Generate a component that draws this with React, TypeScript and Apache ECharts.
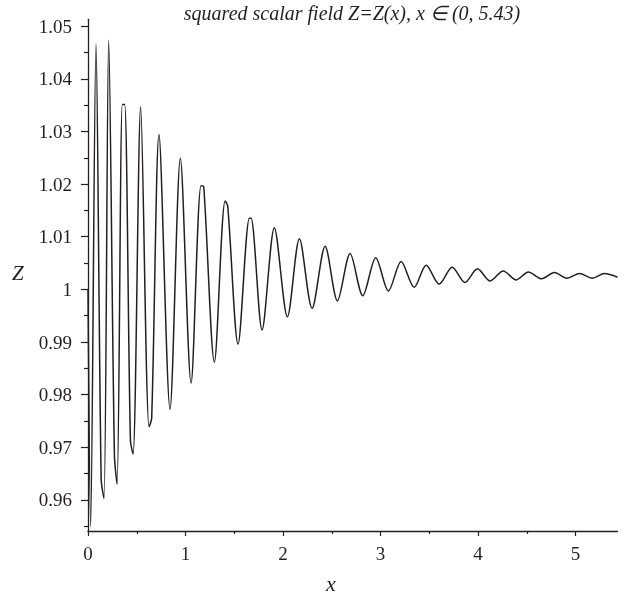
import React, { useEffect, useRef } from "react";
import * as echarts from "echarts";

const xValues = [
  0, 0.027, 0.082, 0.135, 0.164, 0.212, 0.271, 0.298, 0.352, 0.376, 0.435, 0.462,
  0.54, 0.626, 0.653, 0.728, 0.841, 0.947, 1.057, 1.159, 1.187, 1.296, 1.406,
  1.433, 1.539, 1.655, 1.672, 1.785, 1.911, 2.045, 2.168, 2.298, 2.432, 2.558,
  2.688, 2.818, 2.951, 3.081, 3.211, 3.345, 3.468, 3.601, 3.735, 3.865, 3.994,
  4.124, 4.258, 4.391, 4.517, 4.651, 4.784, 4.911, 5.041, 5.171, 5.297, 5.43,
];
const zValues = [
  1.0, 0.9549, 1.0466, 0.964, 0.9603, 1.0473, 0.9685, 0.963, 1.0351, 1.0351, 0.9714, 0.9687,
  1.0347, 0.9739, 0.9755, 1.0294, 0.9772, 1.0249, 0.9822, 1.0197, 1.0195, 0.9862, 1.0168,
  1.0158, 0.9896, 1.0135, 1.0135, 0.9923, 1.0117, 0.9948, 1.0096, 0.9964, 1.0082, 0.9978,
  1.0068, 0.9988, 1.006, 0.9997, 1.0053, 1.0004, 1.0046, 1.001, 1.0042, 1.0013, 1.0039,
  1.0016, 1.0035, 1.0018, 1.0033, 1.002, 1.0032, 1.0021, 1.003, 1.0021, 1.003, 1.0023,
];

const xRange = [0, 5.43];
const yRange = [0.9541, 1.0513];
const xMajorTicks = [0, 1, 2, 3, 4, 5];
const xMinorTicks = [0.5, 1.5, 2.5, 3.5, 4.5];
const yMajorTicks = [0.96, 0.97, 0.98, 0.99, 1, 1.01, 1.02, 1.03, 1.04, 1.05];
const yMinorTicks = [0.955, 0.965, 0.975, 0.985, 0.995, 1.005, 1.015, 1.025, 1.035, 1.045];

const titleText = "squared scalar field Z=Z(x), x \u2208 (0, 5.43)";
const xName = "x";
const yName = "Z";

const INK = "#231f20";

export default function App() {
  const ref = useRef<HTMLDivElement>(null);

  useEffect(() => {
    if (!ref.current) return;
    const chart = echarts.init(ref.current, undefined, { renderer: "svg" });
    const fmt = (v: number) => String(+Number(v).toFixed(3));

    const option: any = {
      animation: false,
      grid: { left: 88, right: 9.5, top: 19.3, bottom: 68, containLabel: false },
      xAxis: [
        {
          type: "value",
          min: xRange[0],
          max: xRange[1],
          axisLine: { show: true, onZero: false, lineStyle: { color: INK, width: 1.3 } },
          axisTick: { show: true, length: 5, customValues: xMajorTicks, lineStyle: { color: INK, width: 1.2 } },
          axisLabel: { show: true, customValues: xMajorTicks, formatter: fmt, margin: 13, color: INK, fontFamily: "Liberation Serif", fontSize: 19 },
          splitLine: { show: false },
        },
        {
          type: "value",
          min: xRange[0],
          max: xRange[1],
          position: "bottom",
          axisLine: { show: false },
          axisTick: { show: true, length: 3, customValues: xMinorTicks, lineStyle: { color: INK, width: 1.2 } },
          axisLabel: { show: false },
          splitLine: { show: false },
        },
      ],
      yAxis: [
        {
          type: "value",
          min: yRange[0],
          max: yRange[1],
          axisLine: { show: true, onZero: false, lineStyle: { color: INK, width: 1.3 } },
          axisTick: { show: true, length: 7, customValues: yMajorTicks, lineStyle: { color: INK, width: 1.2 } },
          axisLabel: { show: true, customValues: yMajorTicks, formatter: fmt, margin: 16, color: INK, fontFamily: "Liberation Serif", fontSize: 19 },
          splitLine: { show: false },
        },
        {
          type: "value",
          min: yRange[0],
          max: yRange[1],
          position: "left",
          axisLine: { show: false },
          axisTick: { show: true, length: 4, customValues: yMinorTicks, lineStyle: { color: INK, width: 1.2 } },
          axisLabel: { show: false },
          splitLine: { show: false },
        },
      ],
      series: [
        {
          type: "line",
          data: xValues.map((x, i) => [x, zValues[i]]),
          showSymbol: false,
          smooth: 0.3,
          lineStyle: { color: INK, width: 1.5 },
          silent: true,
        },
      ],
      graphic: [
        {
          type: "text",
          x: 352,
          y: 3,
          style: { text: titleText, fill: INK, fontFamily: "Liberation Serif", fontStyle: "italic", fontSize: 20, align: "center" },
        },
        {
          type: "text",
          x: 12,
          y: 262,
          style: { text: yName, fill: INK, fontFamily: "Liberation Serif", fontStyle: "italic", fontSize: 21 },
        },
        {
          type: "text",
          x: 326,
          y: 572,
          style: { text: xName, fill: INK, fontFamily: "Liberation Serif", fontStyle: "italic", fontSize: 22 },
        },
      ],
    };

    chart.setOption(option);
    return () => chart.dispose();
  }, []);

  return <div ref={ref} style={{ position: "fixed", left: 0, top: 0, width: 627, height: 599 }} />;
}
